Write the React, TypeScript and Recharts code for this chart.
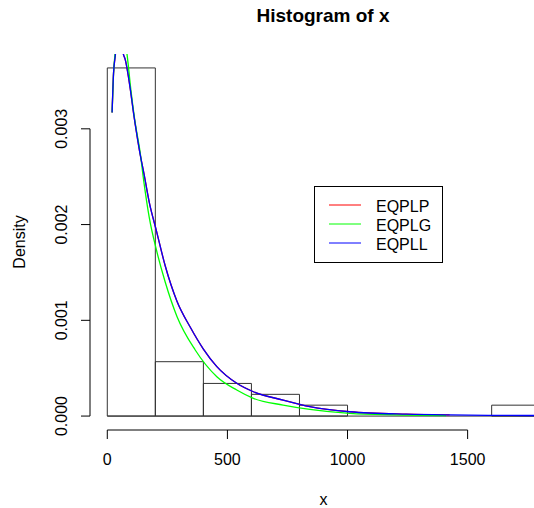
import {
  ComposedChart,
  Line,
  XAxis,
  YAxis,
  ReferenceArea,
  ReferenceLine,
} from "recharts";

// histogram bins (density scale)
const binStarts = [0, 200, 400, 600, 800, 1000, 1200, 1400, 1600];
const binEnds = [200, 400, 600, 800, 1000, 1200, 1400, 1600, 1800];
const binDensity = [0.003636, 0.000568, 0.000341, 0.000227, 0.000114, 0, 0, 0, 0.000114];

// fitted density curves
const eqplpX = [20, 26, 33, 40, 50, 60, 66, 75, 96, 109, 123, 137, 152, 175, 204, 241, 290, 345, 400, 456, 539, 608, 732, 843, 1009, 1245, 1425];
const eqplpY = [0.00317, 0.00358, 0.00376, 0.0039, 0.00396, 0.00388, 0.00379, 0.00372, 0.00341, 0.00317, 0.00294, 0.00273, 0.00254, 0.00223, 0.00194, 0.00157, 0.0012, 0.00093, 0.0007, 0.000516, 0.000342, 0.000254, 0.000167, 0.000098, 0.000045, 0.00002, 0.000012];

const eqplgX = [20, 26, 33, 40, 50, 60, 70, 82, 98, 115, 137, 151, 175, 204, 241, 290, 366, 456, 539, 608, 732, 843, 1009, 1200, 1410];
const eqplgY = [0.00317, 0.00358, 0.0038, 0.00396, 0.00406, 0.00405, 0.00396, 0.00378, 0.00341, 0.00308, 0.00275, 0.00247, 0.00207, 0.00174, 0.0014, 0.00104, 0.00069, 0.000411, 0.000272, 0.000185, 0.000115, 0.00007, 0.000028, 0.000012, 0.000005];

const eqpllX = [20, 26, 33, 40, 50, 60, 66, 75, 96, 109, 123, 137, 152, 175, 204, 241, 290, 345, 400, 456, 539, 608, 732, 843, 1009, 1245, 1425, 1600, 1872];
const eqpllY = [0.00317, 0.00358, 0.00376, 0.0039, 0.00396, 0.00388, 0.00379, 0.00372, 0.00341, 0.00317, 0.00294, 0.00273, 0.00254, 0.00223, 0.00194, 0.00157, 0.0012, 0.00093, 0.0007, 0.000516, 0.000342, 0.000254, 0.000167, 0.000098, 0.000045, 0.00002, 0.000012, 0.000008, 0.000005];

const xTicks = [0, 500, 1000, 1500];
const yTicks = [0, 0.001, 0.002, 0.003];

const series = [
  { name: "EQPLP", color: "#ff0000", xs: eqplpX, ys: eqplpY },
  { name: "EQPLG", color: "#00ff00", xs: eqplgX, ys: eqplgY },
  { name: "EQPLL", color: "#0000ff", xs: eqpllX, ys: eqpllY },
];

// R style axis limits: range of data expanded by 4% each side
const xLo = binStarts[0];
const xHi = binEnds[binEnds.length - 1];
const X_MIN = xLo - 0.04 * (xHi - xLo);
const X_MAX = xHi + 0.04 * (xHi - xLo);
const yTop = Math.max(...binDensity);
const Y_MIN = -0.04 * yTop;
const Y_MAX = 1.04 * yTop;

const FONT = '"Liberation Sans", Arial, sans-serif';

const YTick = (props: any) => {
  const { x, y, payload } = props;
  return (
    <text
      x={x}
      y={y}
      transform={`rotate(-90, ${x}, ${y})`}
      textAnchor="middle"
      fontSize={16}
      fontFamily={FONT}
      fill="#000"
    >
      {payload.value.toFixed(3)}
    </text>
  );
};

const DensityLabel = (props: any) => {
  const vb = props.viewBox;
  const cx = vb.x + 24.5;
  const cy = vb.y + vb.height / 2;
  return (
    <text
      x={cx}
      y={cy}
      transform={`rotate(-90, ${cx}, ${cy})`}
      textAnchor="middle"
      fontSize={16}
      fontFamily={FONT}
      fill="#000"
    >
      Density
    </text>
  );
};

export default function App() {
  const lines = series.map((s) => ({
    ...s,
    data: s.xs.map((x, i) => ({ x, y: s.ys[i] })),
  }));

  return (
    <div
      style={{
        position: "absolute",
        left: 0,
        top: 0,
        width: 534,
        height: 508,
        overflow: "hidden",
        background: "#fff",
        fontFamily: FONT,
      }}
    >
      <ComposedChart
        width={600}
        height={508}
        margin={{ top: 54, right: 43, bottom: 0, left: 0 }}
      >
        <XAxis
          dataKey="x"
          type="number"
          domain={[X_MIN, X_MAX]}
          allowDataOverflow
          ticks={xTicks}
          height={78}
          axisLine={false}
          tickLine={{ stroke: "#000" }}
          tickSize={9}
          tickMargin={15}
          tick={{ fill: "#000", fontSize: 16, fontFamily: FONT }}
          label={{ value: "x", position: "insideBottom", offset: 3, fill: "#000", fontSize: 16, fontFamily: FONT }}
        />
        <YAxis
          type="number"
          domain={[Y_MIN, Y_MAX]}
          allowDataOverflow
          ticks={yTicks}
          width={90}
          axisLine={false}
          tickLine={{ stroke: "#000" }}
          tickSize={9}
          tickMargin={14}
          tick={<YTick />}
          label={{ content: <DensityLabel /> }}
        />

        {/* axis lines only span the tick range, like base R */}
        <ReferenceLine
          segment={[{ x: xTicks[0], y: Y_MIN }, { x: xTicks[xTicks.length - 1], y: Y_MIN }]}
          stroke="#000"
          ifOverflow="visible"
        />
        <ReferenceLine
          segment={[{ x: X_MIN, y: yTicks[0] }, { x: X_MIN, y: yTicks[yTicks.length - 1] }]}
          stroke="#000"
          ifOverflow="visible"
        />

        {/* histogram cells */}
        <ReferenceLine
          segment={[{ x: xLo, y: 0 }, { x: xHi, y: 0 }]}
          stroke="#333"
          ifOverflow="visible"
        />
        {binStarts.map((b, i) => (
          <ReferenceArea
            key={b}
            x1={b}
            x2={binEnds[i]}
            y1={0}
            y2={binDensity[i]}
            fill="#fff"
            fillOpacity={0}
            stroke="#333"
            strokeWidth={1}
            strokeOpacity={1}
            ifOverflow="visible"
          />
        ))}

        {lines.map((s) => (
          <Line
            key={s.name}
            data={s.data}
            dataKey="y"
            type="monotone"
            stroke={s.color}
            strokeWidth={1.3}
            dot={false}
            activeDot={false}
            isAnimationActive={false}
          />
        ))}
      </ComposedChart>

      <svg
        width={534}
        height={30}
        style={{ position: "absolute", left: 0, top: 0, pointerEvents: "none" }}
      >
        <text
          x={323}
          y={21.5}
          textAnchor="middle"
          fontSize={19}
          fontWeight="bold"
          fontFamily={FONT}
          fill="#000"
        >
          Histogram of x
        </text>
      </svg>

      <div
        style={{
          position: "absolute",
          left: 314,
          top: 186,
          width: 129,
          height: 77,
          border: "1px solid #000",
          boxSizing: "border-box",
          background: "#fff",
        }}
      >
        <svg width={127} height={75} style={{ display: "block" }}>
          {series.map((s, i) => (
            <g key={s.name}>
              <line x1={14} x2={46} y1={18 + i * 19} y2={18 + i * 19} stroke={s.color} strokeWidth={1} />
              <text x={61} y={24.5 + i * 19} fontSize={16} fontFamily={FONT} fill="#000">
                {s.name}
              </text>
            </g>
          ))}
        </svg>
      </div>
    </div>
  );
}
